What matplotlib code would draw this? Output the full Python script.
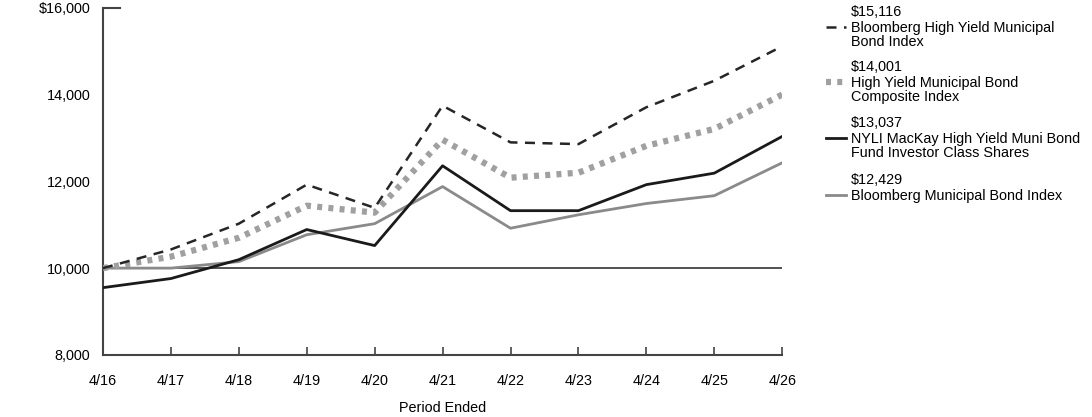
import matplotlib
matplotlib.use("Agg")
import matplotlib.pyplot as plt
from matplotlib.lines import Line2D

plt.rcParams['font.family'] = ['Liberation Sans', 'DejaVu Sans']

# data
periods = ["4/16", "4/17", "4/18", "4/19", "4/20", "4/21", "4/22", "4/23", "4/24", "4/25", "4/26"]
hy_muni_index = [10000, 10430, 11025, 11925, 11390, 13745, 12900, 12860, 13710, 14320, 15116]
composite_index = [10000, 10265, 10700, 11440, 11280, 12960, 12085, 12200, 12820, 13210, 14001]
fund_investor = [9550, 9760, 10195, 10890, 10520, 12360, 11325, 11325, 11925, 12190, 13037]
muni_index = [10000, 10000, 10150, 10770, 11025, 11880, 10920, 11230, 11490, 11670, 12429]

legend_values = ["$15,116", "$14,001", "$13,037", "$12,429"]
legend_names = ["Bloomberg High Yield Municipal\nBond Index",
                "High Yield Municipal Bond\nComposite Index",
                "NYLI MacKay High Yield Muni Bond\nFund Investor Class Shares",
                "Bloomberg Municipal Bond Index"]

yticks = [8000, 10000, 12000, 14000, 16000]
ytick_labels = ["8,000", "10,000", "12,000", "14,000", "$16,000"]

styles = [
    dict(color="#262626", lw=1.8, dashes=(4, 3)),
    dict(color="#a0a0a0", lw=4.5, dashes=(0.8, 1.0)),
    dict(color="#1a1a1a", lw=2.0, linestyle="-"),
    dict(color="#8a8a8a", lw=2.0, linestyle="-"),
]
series = [hy_muni_index, composite_index, fund_investor, muni_index]

fs = 10.4
fig = plt.figure(figsize=(10.92, 4.17), dpi=100)
ax = fig.add_axes([0.0943, 0.149, 0.622, 0.832])

x = list(range(len(periods)))
ax.axhline(10000, color="#333333", lw=1.2, zorder=1)
for vals, st in zip(series[::-1], styles[::-1]):
    ax.plot(x, vals, zorder=3, **st)

ax.set_xlim(0, len(periods) - 1)
ax.set_ylim(8000, 16000)
ax.set_xticks(x)
ax.set_xticklabels(periods, fontsize=fs)
ax.set_yticks(yticks)
ax.set_yticklabels(ytick_labels, fontsize=fs)
ax.tick_params(axis="x", direction="in", length=6, width=1.2, color="#444444", pad=14)
ax.tick_params(axis="y", length=0, pad=9)
# small mark at the top of the y axis
ax.plot([0, 0.25], [16000, 16000], color="#444444", lw=1.5, clip_on=False)

for s in ["top", "right"]:
    ax.spines[s].set_visible(False)
for s in ["left", "bottom"]:
    ax.spines[s].set_color("#444444")
    ax.spines[s].set_linewidth(1.5)

fig.text(0.405, 0.022, "Period Ended", fontsize=fs, ha="center", va="center")

# legend on the right
top_y = [12, 67, 123, 180]
for i in range(4):
    yv = 1 - top_y[i] / 417
    fig.text(851 / 1092, yv, legend_values[i], fontsize=fs, va="center")
    fig.text(851 / 1092, yv - 9 / 417, legend_names[i], fontsize=fs, va="top",
             linespacing=1.03)
    ly = 1 - (top_y[i] + 15) / 417
    st = dict(styles[i])
    fig.add_artist(Line2D([826 / 1092, 846 / 1092], [ly, ly], transform=fig.transFigure, **st))

fig.savefig("out.png", dpi=100)
